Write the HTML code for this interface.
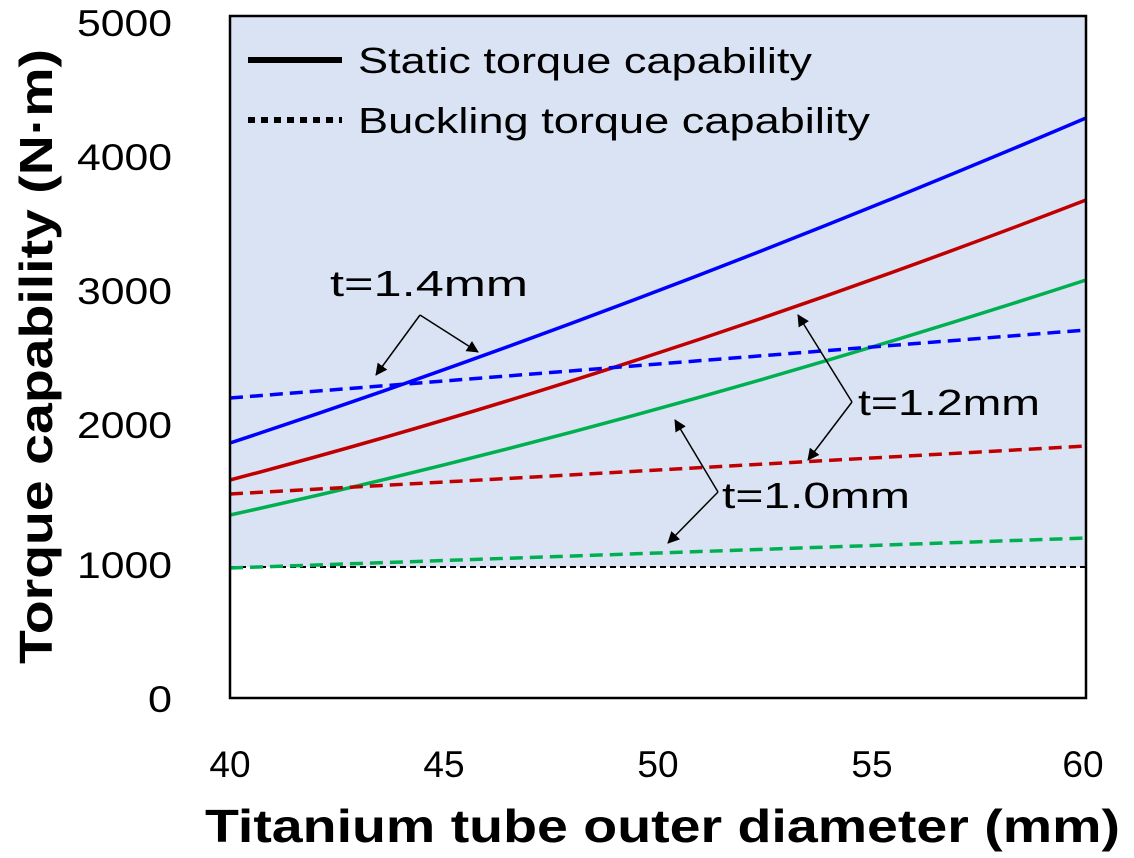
<!DOCTYPE html>
<html><head><style>body{margin:0;background:#fff}</style></head><body>
<svg width="1134" height="853" xmlns="http://www.w3.org/2000/svg" font-family="Liberation Sans, sans-serif">
<defs><marker id="a" markerWidth="12" markerHeight="12" refX="11" refY="6" orient="auto" markerUnits="userSpaceOnUse"><path d="M0,0 L12,6 L0,12 z" fill="#000"/></marker></defs>
<rect x="230" y="16" width="856" height="551" fill="#dae3f3"/>
<line x1="230" y1="567" x2="1086" y2="567" stroke="#000" stroke-width="2" stroke-dasharray="6,4"/>
<g fill="none" stroke-width="3.5">
<path d="M230,443 Q640,308 1086,118" stroke="#0000ff"/>
<path d="M230,480 Q640,372 1086,200" stroke="#c00000"/>
<path d="M230,515 Q640,425 1086,280" stroke="#00b050"/>
<g stroke-dasharray="13,7">
<path d="M230,398 L1086,330" stroke="#0000ff"/>
<path d="M230,494 L1086,446" stroke="#c00000"/>
<path d="M230,568 L1086,538" stroke="#00b050"/>
</g></g>
<rect x="230" y="16" width="856" height="682" fill="none" stroke="#000" stroke-width="2.5"/>
<line x1="248" y1="60" x2="342" y2="60" stroke="#000" stroke-width="6"/>
<line x1="248" y1="120" x2="342" y2="120" stroke="#000" stroke-width="6" stroke-dasharray="7,6"/>
<g font-size="36" fill="#000">
<text x="358" y="73" textLength="454" lengthAdjust="spacingAndGlyphs">Static torque capability</text>
<text x="358" y="133" textLength="512" lengthAdjust="spacingAndGlyphs">Buckling torque capability</text>
<text x="330" y="296" textLength="198" lengthAdjust="spacingAndGlyphs">t=1.4mm</text>
<text x="858" y="415" textLength="182" lengthAdjust="spacingAndGlyphs">t=1.2mm</text>
<text x="722" y="508" textLength="188" lengthAdjust="spacingAndGlyphs">t=1.0mm</text>
</g>
<g stroke="#000" stroke-width="1.5" marker-end="url(#a)">
<line x1="420" y1="315" x2="376" y2="375"/><line x1="420" y1="315" x2="478" y2="352"/>
<line x1="852" y1="402" x2="798" y2="315"/><line x1="852" y1="402" x2="808" y2="460"/>
<line x1="718" y1="492" x2="675" y2="420"/><line x1="718" y1="492" x2="668" y2="543"/>
</g>
<g font-size="37" fill="#000">
<text x="77" y="36" textLength="95" lengthAdjust="spacingAndGlyphs">5000</text>
<text x="77" y="170" textLength="95" lengthAdjust="spacingAndGlyphs">4000</text>
<text x="77" y="304" textLength="95" lengthAdjust="spacingAndGlyphs">3000</text>
<text x="77" y="438" textLength="95" lengthAdjust="spacingAndGlyphs">2000</text>
<text x="77" y="578" textLength="95" lengthAdjust="spacingAndGlyphs">1000</text>
<text x="148" y="712" textLength="24" lengthAdjust="spacingAndGlyphs">0</text>
</g>
<g font-size="37" fill="#000" text-anchor="middle">
<text x="230" y="777">40</text><text x="444" y="777">45</text><text x="658" y="777">50</text>
<text x="872" y="777">55</text><text x="1083" y="777">60</text>
</g>
<text x="205" y="842" font-size="46" font-weight="bold" textLength="915" lengthAdjust="spacingAndGlyphs">Titanium tube outer diameter (mm)</text>
<text transform="translate(52,664) rotate(-90)" font-size="46" font-weight="bold" textLength="615" lengthAdjust="spacingAndGlyphs">Torque capability (N·m)</text>
</svg>
</body></html>
